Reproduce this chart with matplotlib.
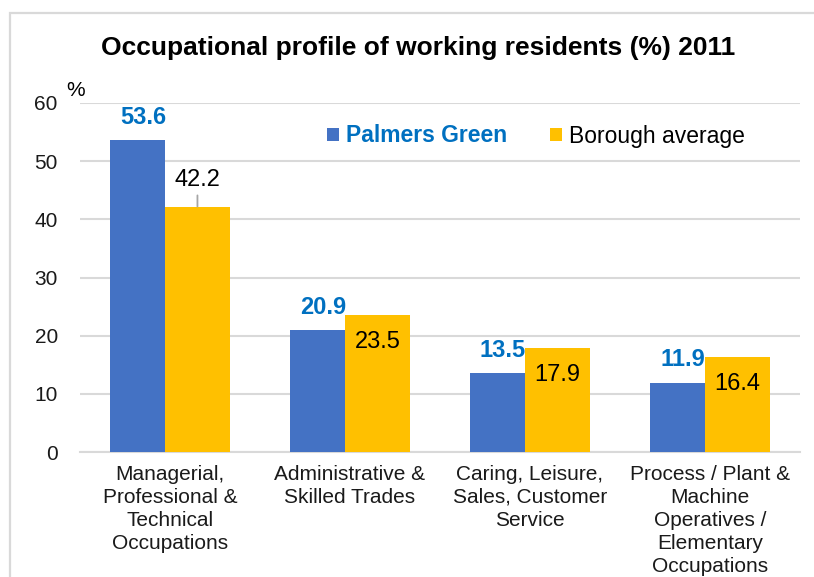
import matplotlib
matplotlib.use("Agg")
import matplotlib.pyplot as plt
from matplotlib.patches import Rectangle
import numpy as np

plt.rcParams['font.family'] = ['Liberation Sans', 'DejaVu Sans']

categories = ["Managerial,\nProfessional &\nTechnical\nOccupations",
              "Administrative &\nSkilled Trades",
              "Caring, Leisure,\nSales, Customer\nService",
              "Process / Plant &\nMachine\nOperatives /\nElementary\nOccupations"]
palmers_green = [53.6, 20.9, 13.5, 11.9]
borough_avg = [42.2, 23.5, 17.9, 16.4]
yticks = [0, 10, 20, 30, 40, 50, 60]

W, H = 814, 577
fig = plt.figure(figsize=(W / 100, H / 100), dpi=100)

# outer border (only top and left edges visible in the crop)
fig.add_artist(Rectangle((10 / W, -0.1), 1.2, 1 - 13 / H + 0.1, transform=fig.transFigure,
                         fill=False, edgecolor='#D9D9D9', linewidth=1.6))

ax = fig.add_axes([80 / W, (H - 452) / H, 720 / W, (452 - 103) / H])
x = np.arange(len(categories))
blue = '#4472C4'
gold = '#FFC000'
ax.bar(x - 0.333, palmers_green, width=0.305, align='edge', color=blue, label='Palmers Green', zorder=3)
ax.bar(x - 0.028, borough_avg, width=0.361, align='edge', color=gold, label='Borough average', zorder=3)

ax.set_xlim(-0.5, 3.5)
ax.set_ylim(0, 60)
ax.set_yticks(yticks)
ax.set_yticklabels([str(t) for t in yticks], fontsize=15, color='#1a1a1a')
ax.yaxis.grid(True, color='#D9D9D9', linewidth=1.5, zorder=0)
ax.set_axisbelow(True)
for s in ['left', 'right', 'top']:
    ax.spines[s].set_visible(False)
ax.spines['bottom'].set_color('#D9D9D9')
ax.spines['bottom'].set_linewidth(1.5)
ax.tick_params(axis='y', length=0, pad=16)
ax.tick_params(axis='x', length=0, pad=9)
ax.set_xticks(x)
ax.set_xticklabels(categories, fontsize=15, linespacing=1.28, va='top', color='#1a1a1a')

# data labels
for i, v in enumerate(palmers_green):
    cx = i - 0.333 + 0.305 / 2 + 0.03
    ax.annotate(f"{v:.1f}", (cx, v), xytext=(0, 23), textcoords='offset pixels',
                ha='center', va='center', color='#0070C0', fontsize=17, fontweight='bold')
for i, v in enumerate(borough_avg):
    cx = i - 0.028 + 0.361 / 2
    if i == 0:
        ax.annotate(f"{v:.1f}", (cx, v), xytext=(0, 27), textcoords='offset pixels',
                    ha='center', va='center', color='black', fontsize=17,
                    arrowprops=dict(arrowstyle='-', color='#A6A6A6', lw=1.3,
                                    shrinkA=1.5, shrinkB=0))
    else:
        ax.annotate(f"{v:.1f}", (cx, v), xytext=(0, -27), textcoords='offset pixels',
                    ha='center', va='center', color='black', fontsize=17)

ax.text(-0.006, 1.037, '%', transform=ax.transAxes, fontsize=15, ha='center', va='center')

leg = ax.legend(ncol=2, loc='center', bbox_to_anchor=((536 - 80) / 720, (452 - 136) / 349),
                frameon=False, fontsize=16.5, handlelength=0.5, handleheight=0.5,
                columnspacing=1.9, handletextpad=0.3)
leg.get_texts()[0].set_color('#0070C0')
leg.get_texts()[0].set_fontweight('bold')

fig.text(418 / W, 1 - 48 / H, "Occupational profile of working residents (%) 2011",
         ha='center', va='center', fontsize=19, fontweight='bold')

fig.savefig('out.png', dpi=100)
